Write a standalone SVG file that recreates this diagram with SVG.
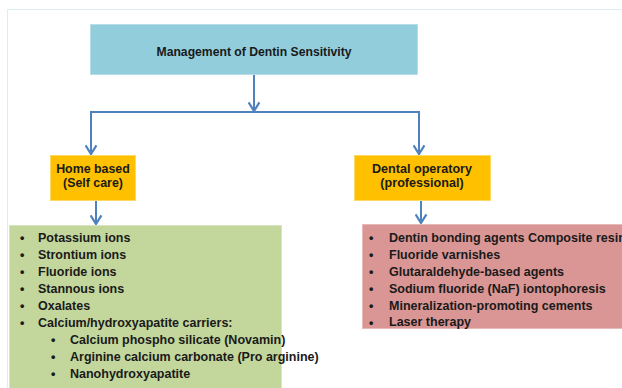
<svg xmlns="http://www.w3.org/2000/svg" width="622" height="388" viewBox="0 0 622 388">
<defs>
<style>
.t{font-family:"Liberation Sans",Arial,sans-serif;font-weight:bold;fill:#1a1a1a}
.li{font-size:12.5px}
.c{stroke:#4f81bd;stroke-width:2;fill:none}
</style>
<marker id="ah" viewBox="0 0 12 12" refX="10" refY="6" markerWidth="13" markerHeight="13" markerUnits="userSpaceOnUse" orient="auto">
<polyline points="2,1 10,6 2,11" fill="none" stroke="#4f81bd" stroke-width="2"/>
</marker>
</defs>
<rect x="0" y="0" width="622" height="388" fill="#ffffff"/>
<rect x="7.5" y="9.5" width="640" height="400" fill="none" stroke="#daeef3" stroke-width="1"/>
<g id="connectors">
<line class="c" x1="254" y1="74" x2="254" y2="111" marker-end="url(#ah)"/>
<polyline class="c" points="91,155 91,112 419,112 419,155"/>
<line class="c" x1="91" y1="112" x2="91" y2="154" marker-end="url(#ah)"/>
<line class="c" x1="419" y1="112" x2="419" y2="154" marker-end="url(#ah)"/>
<line class="c" x1="96" y1="200" x2="96" y2="224" marker-end="url(#ah)"/>
<line class="c" x1="421" y1="200" x2="421" y2="223" marker-end="url(#ah)"/>
</g>
<g id="root">
<rect x="90.5" y="24.5" width="327" height="50" fill="#92cddc" stroke="#b6dde8"/>
<text class="t" x="254" y="56" font-size="12.2" text-anchor="middle">Management of Dentin Sensitivity</text>
</g>
<g id="home">
<rect x="50.5" y="155.5" width="85" height="45" fill="#ffc000" stroke="#ffd966"/>
<text class="t" x="93" y="173" font-size="12.4" text-anchor="middle">Home based</text>
<text class="t" x="93" y="187" font-size="12.4" text-anchor="middle">(Self care)</text>
</g>
<g id="dental">
<rect x="354.5" y="155.5" width="136" height="45" fill="#ffc000" stroke="#ffd966"/>
<text class="t" x="422" y="173" font-size="12.6" text-anchor="middle">Dental operatory</text>
<text class="t" x="422" y="187" font-size="12.6" text-anchor="middle">(professional)</text>
</g>
<g id="home-list">
<rect x="9.5" y="225.5" width="272" height="170" fill="#c3d69b" stroke="#d7e4bd"/>
<g class="t li">
<text x="20" y="241.5">•</text><text x="38" y="241.5">Potassium ions</text>
<text x="20" y="258.5">•</text><text x="38" y="258.5">Strontium ions</text>
<text x="20" y="275.5">•</text><text x="38" y="275.5">Fluoride ions</text>
<text x="20" y="292.5">•</text><text x="38" y="292.5">Stannous ions</text>
<text x="20" y="309.5">•</text><text x="38" y="309.5">Oxalates</text>
<text x="20" y="326.5">•</text><text x="38" y="326.5">Calcium/hydroxyapatite carriers:</text>
<text x="51" y="343.5">•</text><text x="70" y="343.5">Calcium phospho silicate (Novamin)</text>
<text x="51" y="360.5">•</text><text x="70" y="360.5">Arginine calcium carbonate (Pro arginine)</text>
<text x="51" y="378">•</text><text x="70" y="378">Nanohydroxyapatite</text>
</g>
</g>
<g id="dental-list">
<rect x="362.5" y="224.5" width="270" height="104" fill="#d99694" stroke="#e6b9b8"/>
<g class="t li">
<text x="369" y="241.5">•</text><text x="389" y="241.5">Dentin bonding agents Composite resin</text>
<text x="369" y="258.5">•</text><text x="389" y="258.5">Fluoride varnishes</text>
<text x="369" y="275.5">•</text><text x="389" y="275.5">Glutaraldehyde-based agents</text>
<text x="369" y="292.5">•</text><text x="389" y="292.5">Sodium fluoride (NaF) iontophoresis</text>
<text x="369" y="309.5">•</text><text x="389" y="309.5">Mineralization-promoting cements</text>
<text x="369" y="326.5">•</text><text x="389" y="326">Laser therapy</text>
</g>
</g>
</svg>
